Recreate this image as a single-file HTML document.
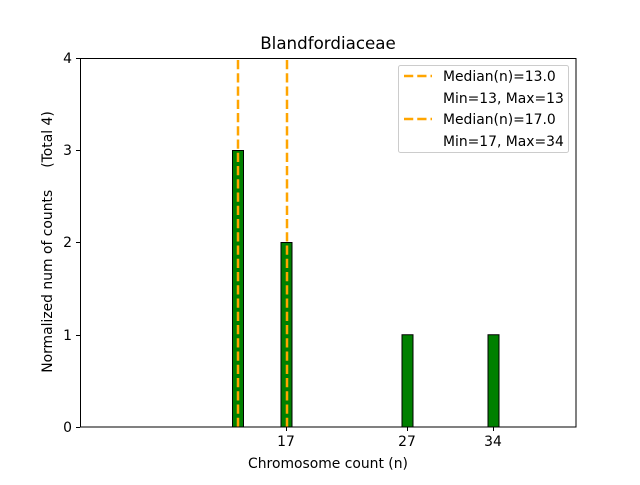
<!DOCTYPE html><html><head><style>body{margin:0;background:#fff}text{font-family:"DejaVu Sans","Liberation Sans",sans-serif;fill:#000;white-space:pre}</style></head><body>
<svg width="640" height="480" viewBox="0 0 640 480" xmlns="http://www.w3.org/2000/svg" xml:space="preserve">
<rect width="640" height="480" fill="#fff"/>
<g fill="#008000" stroke="#000" stroke-width="1">
<rect x="232.5" y="150.5" width="11" height="276.5"/>
<rect x="281" y="242.5" width="11" height="184.5"/>
<rect x="402" y="334.75" width="11" height="92.25"/>
<rect x="488" y="334.75" width="11" height="92.25"/>
</g>
<g stroke="#ffa500" stroke-width="2.5" stroke-dasharray="9.25,4">
<line x1="238" y1="427" x2="238" y2="58"/>
<line x1="287" y1="427" x2="287" y2="58"/>
</g>
<rect x="80.5" y="58.5" width="495.5" height="368.5" fill="none" stroke="#000" stroke-width="1"/>
<g stroke="#000" stroke-width="1">
<line x1="80" y1="427.5" x2="76" y2="427.5"/><line x1="80" y1="335.5" x2="76" y2="335.5"/><line x1="80" y1="242.5" x2="76" y2="242.5"/><line x1="80" y1="150.5" x2="76" y2="150.5"/><line x1="80" y1="58.5" x2="76" y2="58.5"/>
<line x1="286.5" y1="427" x2="286.5" y2="431"/><line x1="407.5" y1="427" x2="407.5" y2="431"/><line x1="493.5" y1="427" x2="493.5" y2="431"/>
</g>
<g font-size="13.9" text-anchor="end">
<text x="72" y="432">0</text><text x="72" y="340">1</text><text x="72" y="247">2</text><text x="72" y="155">3</text><text x="72" y="63">4</text>
</g>
<g font-size="13.9" text-anchor="middle">
<text x="286" y="446">17</text><text x="407" y="446">27</text><text x="493" y="446">34</text>
<text x="328" y="468">Chromosome count (n)</text>
<text x="328" y="49" font-size="16.7">Blandfordiaceae</text>
<text transform="translate(52,242) rotate(-90)">Normalized num of counts     (Total 4)</text>
</g>
<rect x="398.5" y="65.5" width="170" height="87" rx="2" fill="#fff" fill-opacity="0.8" stroke="#ccc"/>
<g stroke="#ffa500" stroke-width="2.5" stroke-dasharray="9.25,4"><line x1="404" y1="76" x2="432" y2="76"/><line x1="404" y1="119" x2="432" y2="119"/></g>
<g font-size="13.9"><text x="443" y="81">Median(n)=13.0</text><text x="443" y="103">Min=13, Max=13</text><text x="443" y="124">Median(n)=17.0</text><text x="443" y="146">Min=17, Max=34</text></g>
</svg></body></html>
